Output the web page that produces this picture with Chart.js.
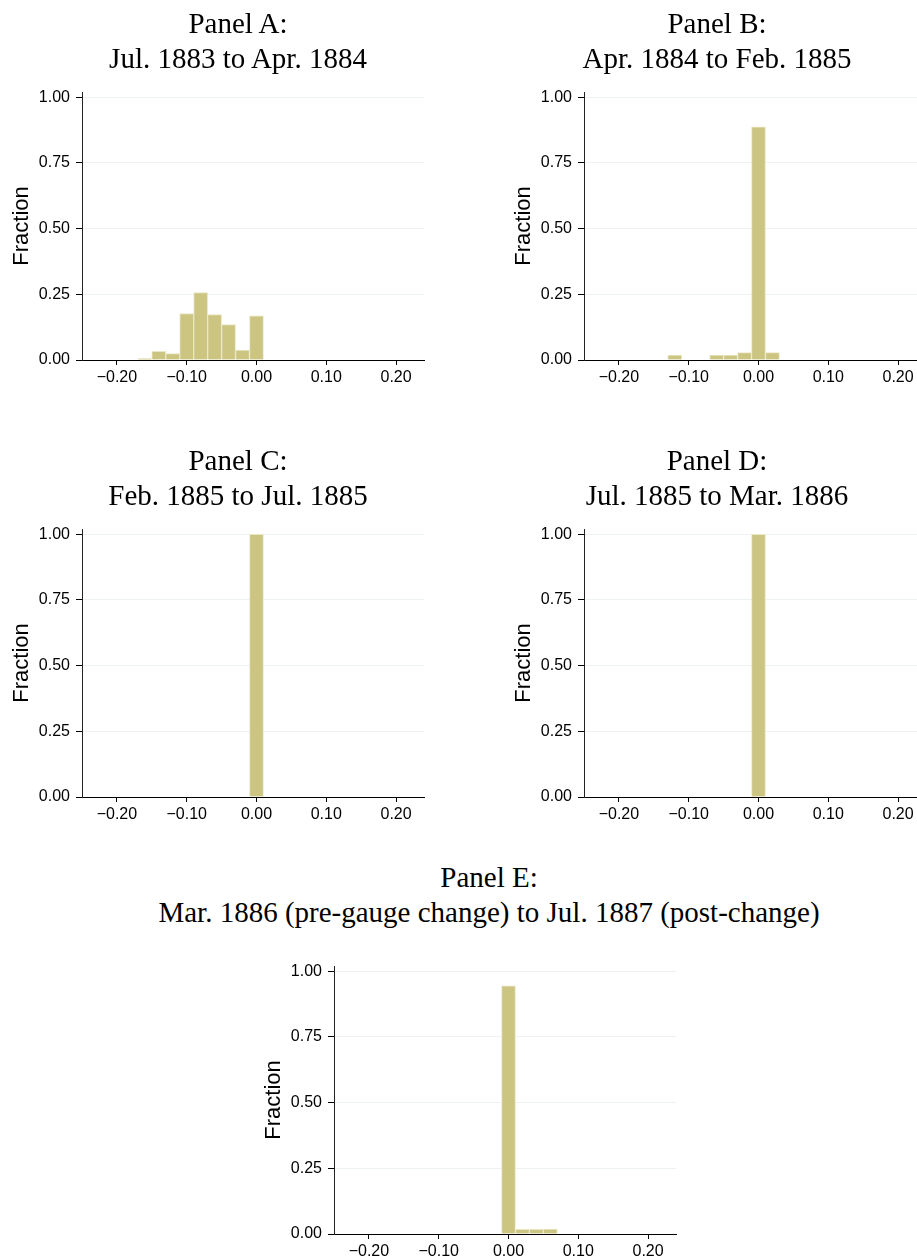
<!DOCTYPE html>
<html>
<head>
<meta charset="utf-8">
<script src="https://cdn.jsdelivr.net/npm/chart.js@4.4.1/dist/chart.umd.min.js"></script>
<style>
  html, body { margin: 0; padding: 0; background: #fff; overflow: hidden; }
  body { width: 917px; height: 1256px; position: relative; }
  .title {
    position: absolute; width: 800px; text-align: center;
    font-family: "Liberation Serif", serif; font-size: 29px; line-height: 35px;
    color: #000; white-space: nowrap;
  }
  canvas { position: absolute; }
</style>
</head>
<body>
<canvas id="hist-a" width="440" height="328" style="left:0px; top:72px"></canvas>
<canvas id="hist-b" width="440" height="328" style="left:502px; top:72px"></canvas>
<canvas id="hist-c" width="440" height="328" style="left:0px; top:509px"></canvas>
<canvas id="hist-d" width="440" height="328" style="left:502px; top:509px"></canvas>
<canvas id="hist-e" width="440" height="328" style="left:252px; top:946px"></canvas>

<script>
// ------------------------------------------------------
// @Data
// ------------------------------------------------------

// bin centres (width 0.02), shared by every panel
const binCenters = [-0.16, -0.14, -0.12, -0.10, -0.08, -0.06, -0.04, -0.02, 0.00, 0.02, 0.04, 0.06];

const fracA = [0.005, 0.033, 0.024, 0.177, 0.257, 0.173, 0.135, 0.038, 0.168, 0, 0, 0];
const fracB = [0, 0, 0.019, 0, 0, 0.019, 0.019, 0.028, 0.887, 0.028, 0, 0];
const fracC = [0, 0, 0, 0, 0, 0, 0, 0, 1.00, 0, 0, 0];
const fracD = [0, 0, 0, 0, 0, 0, 0, 0, 1.00, 0, 0, 0];
const fracE = [0, 0, 0, 0, 0, 0, 0, 0, 0.945, 0.018, 0.018, 0.019];

const xTicks = [-0.20, -0.10, 0.00, 0.10, 0.20];
const yTicks = [0.00, 0.25, 0.50, 0.75, 1.00];

const panelTitles = [
  ['Panel A:', 'Jul. 1883 to Apr. 1884'],
  ['Panel B:', 'Apr. 1884 to Feb. 1885'],
  ['Panel C:', 'Feb. 1885 to Jul. 1885'],
  ['Panel D:', 'Jul. 1885 to Mar. 1886'],
  ['Panel E:', 'Mar. 1886 (pre-gauge change) to Jul. 1887 (post-change)'],
];

// ------------------------------------------------------
// @Titles
// ------------------------------------------------------

const titleSpots = [[238, 6], [717, 6], [238, 443], [717, 443], [489, 860]];

panelTitles.forEach((lines, i) => {
  const div = document.createElement('div');
  div.className = 'title';
  div.style.left = (titleSpots[i][0] - 400) + 'px';
  div.style.top = titleSpots[i][1] + 'px';
  lines.forEach((line, j) => {
    if (j) div.appendChild(document.createElement('br'));
    div.appendChild(document.createTextNode(line));
  });
  document.body.appendChild(div);
});

// ------------------------------------------------------
// @Histograms
// ------------------------------------------------------

const sansFont = { family: '"Liberation Sans", Arial, sans-serif', size: 16 };
const fmtX = v => (v < 0 ? '\u2212' : '') + Math.abs(v).toFixed(2);
const hasMass = c => c.raw && c.raw.y > 0;

function makeHist(id, values) {
  new Chart(document.getElementById(id), {
    type: 'bar',
    data: {
      datasets: [{
        data               : binCenters.map((x, i) => ({ x: x, y: values[i] })),
        backgroundColor    : c => (hasMass(c) ? 'rgb(204, 197, 130)' : 'rgba(0, 0, 0, 0)'),
        borderColor        : 'rgb(234, 231, 196)',
        borderWidth        : c => (hasMass(c) ? 1 : 0),
        barPercentage      : 1,
        categoryPercentage : 1,
      }],
    },
    options: {
      responsive: false,
      animation: false,
      devicePixelRatio: 1,
      layout: { padding: { top: 20, right: 16, bottom: 0, left: 0 } },
      plugins: {
        legend: { display: false },
        tooltip: { enabled: false },
      },
      scales: {
        x: {
          type: 'linear',
          min: -0.25,
          max: 0.24,
          offset: false,
          afterBuildTicks: s => { s.ticks = xTicks.map(v => ({ value: v })); },
          afterFit: s => { s.height = 40; },
          grid: { drawOnChartArea: false, offset: false, tickLength: 5, tickColor: '#000' },
          border: { color: '#000', width: 1 },
          ticks: { padding: 3, color: '#000', font: sansFont, maxRotation: 0, autoSkip: false, callback: fmtX },
        },
        y: {
          min: 0,
          max: 1.02,
          afterBuildTicks: s => { s.ticks = yTicks.map(v => ({ value: v })); },
          afterFit: s => { s.width = 82; },
          grid: { color: '#edf2f2', tickLength: 6, tickColor: '#000' },
          border: { color: '#222', width: 1 },
          ticks: { padding: 6, color: '#000', font: sansFont, callback: v => v.toFixed(2) },
          title: {
            display: true,
            text: 'Fraction',
            color: '#000',
            font: { family: '"Liberation Sans", Arial, sans-serif', size: 22 },
            padding: { top: 9, bottom: 0 },
          },
        },
      },
    },
  });
}

makeHist('hist-a', fracA);
makeHist('hist-b', fracB);
makeHist('hist-c', fracC);
makeHist('hist-d', fracD);
makeHist('hist-e', fracE);
</script>
</body>
</html>
